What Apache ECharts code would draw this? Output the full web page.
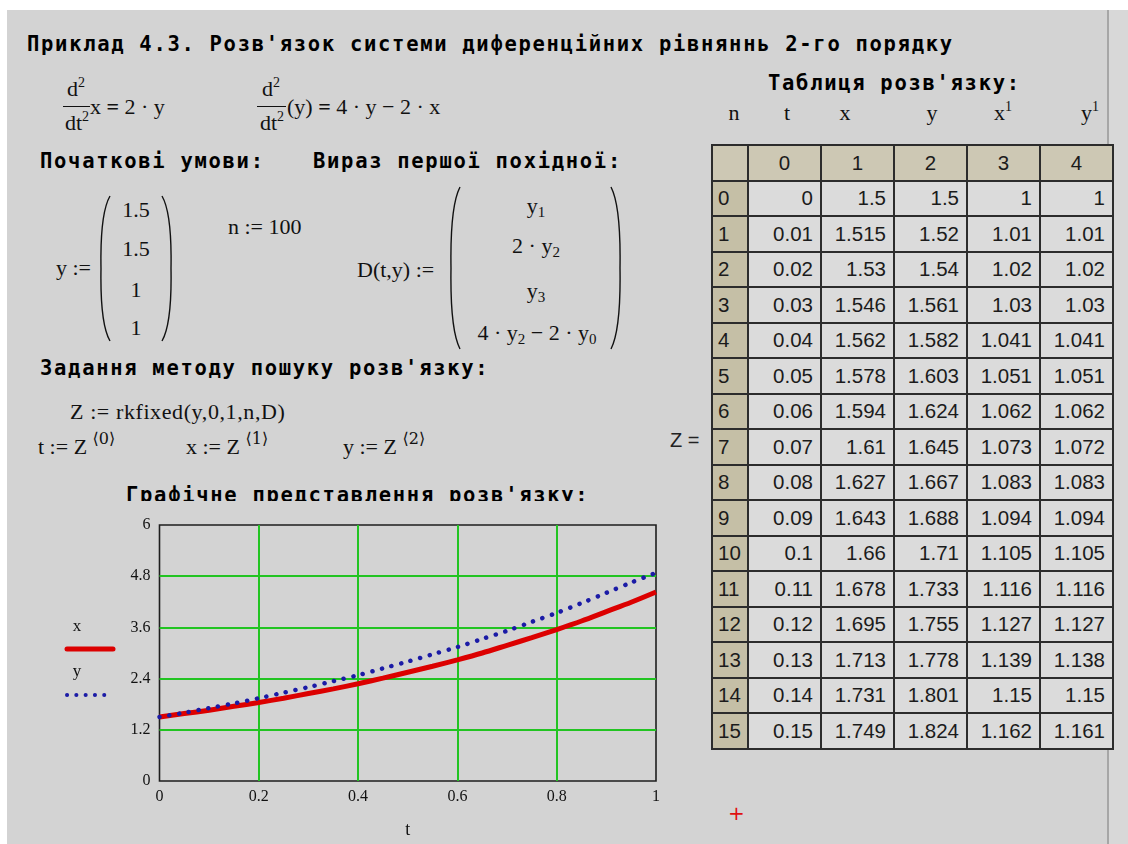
<!DOCTYPE html>
<html>
<head>
<meta charset="utf-8">
<script src="https://cdn.jsdelivr.net/npm/echarts@6/dist/echarts.min.js"></script>
<style>
  html, body { margin: 0; padding: 0; }
  body { width: 1128px; height: 844px; overflow: hidden; background: #fff; position: relative; }
  #sheet { position: absolute; left: 7px; top: 10px; width: 1100px; height: 834px; background: #d3d3d3; }
  #margin { position: absolute; left: 1109px; top: 10px; width: 19px; height: 834px; background: #d8d8d8; }
  #divider { position: absolute; left: 1107px; top: 10px; width: 2px; height: 834px; background: #a6a6a6; }
  .h { position: absolute; font-family: 'DejaVu Sans Mono', monospace; font-weight: bold; font-size: 20.5px;
       letter-spacing: 1.7px; line-height: 20.5px; white-space: pre; color: #000; }
  .m { position: absolute; font-family: 'Liberation Serif', 'DejaVu Serif', serif; font-size: 22px;
       line-height: 22px; white-space: pre; color: #111; }
  .m sub { font-size: 15px; vertical-align: -4px; line-height: 0; }
  .m sup { font-size: 14px; vertical-align: 9px; line-height: 0; }
  .ang { font-family: 'DejaVu Serif', 'DejaVu Sans', serif; font-size: 16px; position: relative; top: -10px; }
  .bareq { font-weight: bold; }
  .fbar { position: absolute; height: 1px; background: #111; }
  .c { transform: translateX(-50%); text-align: center; }
  svg.paren { position: absolute; overflow: visible; }
  #clipTitle { position: absolute; left: 126px; top: 485px; width: 520px; height: 16px; overflow: hidden; }
  #clipTitle .h { left: 0; top: 0; }
  #tableZ { position: absolute; left: 711px; top: 144px; border-collapse: collapse; table-layout: fixed; width: 401px; }
  #tableZ td { border: 2px solid #2c2c2c; height: 33.5px; padding: 0 7px 0 4px; font-family: 'Liberation Sans', Arial, sans-serif;
               font-size: 20.5px; color: #1b1b1b; background: #dbdbdb; text-align: right; overflow: hidden; white-space: nowrap; }
  #tableZ td.hd { background: #cdc8b4; text-align: center; padding: 0; }
  #tableZ td.ix { background: #c5bfa6; text-align: left; padding-left: 5px; padding-right: 0; }
  #zeq { position: absolute; left: 670px; top: 429px; font-family: 'Liberation Sans', Arial, sans-serif; font-size: 20px; color: #222; }
  #cursor { position: absolute; left: 728px; top: 803px; font-family: 'DejaVu Sans', sans-serif; font-size: 20px; color: #e01010; line-height: 20px; }
  #plot { position: absolute; left: 0; top: 500px; width: 700px; height: 344px; }
</style>
</head>
<body>
<div id="sheet"></div>
<div id="divider"></div>
<div id="margin"></div>

<!-- headings -->
<div class="h" style="left:27px;top:34px">Приклад 4.3. Розв'язок системи диференційних рівняннь 2-го порядку</div>
<div class="h" style="left:40px;top:151px">Початкові умови:</div>
<div class="h" style="left:313px;top:151px">Вираз першої похідної:</div>
<div class="h" style="left:40px;top:358px">Задання методу пошуку розв'язку:</div>
<div id="clipTitle"><div class="h">Графічне представлення розв'язку:</div></div>
<div class="h" style="left:768px;top:73px">Таблиця розв'язку:</div>

<!-- differential equations -->
<div class="m c" style="left:76px;top:78px">d<sup>2</sup></div>
<div class="fbar" style="left:63px;top:106px;width:27px"></div>
<div class="m c" style="left:77px;top:112px">dt<sup>2</sup></div>
<div class="m" style="left:90px;top:96px">x <span class="bareq">=</span> 2 · y</div>

<div class="m c" style="left:271px;top:78px">d<sup>2</sup></div>
<div class="fbar" style="left:257px;top:106px;width:29px"></div>
<div class="m c" style="left:272px;top:112px">dt<sup>2</sup></div>
<div class="m" style="left:287px;top:96px">(y) <span class="bareq">=</span> 4 · y − 2 · x</div>

<!-- initial conditions -->
<div class="m" style="left:56px;top:257px">y :=</div>
<svg class="paren" id="p1" style="left:100px;top:196px" width="12" height="145"></svg>
<svg class="paren" id="p2" style="left:160px;top:196px" width="12" height="145"></svg>
<div class="m c" style="left:136px;top:199px">1.5</div>
<div class="m c" style="left:136px;top:238px">1.5</div>
<div class="m c" style="left:136px;top:279px">1</div>
<div class="m c" style="left:136px;top:317px">1</div>
<div class="m" style="left:228px;top:216px">n := 100</div>

<!-- derivative vector -->
<div class="m" style="left:357px;top:259px">D(t,y) :=</div>
<svg class="paren" id="p3" style="left:450px;top:187px" width="12" height="162"></svg>
<svg class="paren" id="p4" style="left:609px;top:187px" width="12" height="162"></svg>
<div class="m c" style="left:536px;top:195px">y<sub>1</sub></div>
<div class="m c" style="left:536px;top:235px">2 · y<sub>2</sub></div>
<div class="m c" style="left:536px;top:280px">y<sub>3</sub></div>
<div class="m c" style="left:537px;top:322px">4 · y<sub>2</sub> − 2 · y<sub>0</sub></div>

<!-- solver call -->
<div class="m" style="left:70px;top:401px;letter-spacing:0.6px">Z := rkfixed(y,0,1,n,D)</div>
<div class="m" style="left:38px;top:436px">t := Z <span class="ang">⟨0⟩</span></div>
<div class="m" style="left:186px;top:436px">x := Z <span class="ang">⟨1⟩</span></div>
<div class="m" style="left:343px;top:436px">y := Z <span class="ang">⟨2⟩</span></div>

<!-- table captions -->
<div class="m c" style="left:734px;top:102px">n</div>
<div class="m c" style="left:787px;top:102px">t</div>
<div class="m c" style="left:845px;top:102px">x</div>
<div class="m c" style="left:932px;top:102px">y</div>
<div class="m c" style="left:1003px;top:102px">x<sup>1</sup></div>
<div class="m c" style="left:1090px;top:102px">y<sup>1</sup></div>
<div id="zeq">Z =</div>
<table id="tableZ"></table>

<div id="plot"></div>
<div id="cursor">+</div>

<script>
// ---- solution table Z (first 16 rows) ----
const columnIds = [0, 1, 2, 3, 4];
const rowIds = [0, 1, 2, 3, 4, 5, 6, 7, 8, 9, 10, 11, 12, 13, 14, 15];
const colT  = [0, 0.01, 0.02, 0.03, 0.04, 0.05, 0.06, 0.07, 0.08, 0.09, 0.1, 0.11, 0.12, 0.13, 0.14, 0.15];
const colX  = [1.5, 1.515, 1.53, 1.546, 1.562, 1.578, 1.594, 1.61, 1.627, 1.643, 1.66, 1.678, 1.695, 1.713, 1.731, 1.749];
const colY  = [1.5, 1.52, 1.54, 1.561, 1.582, 1.603, 1.624, 1.645, 1.667, 1.688, 1.71, 1.733, 1.755, 1.778, 1.801, 1.824];
const colX1 = [1, 1.01, 1.02, 1.03, 1.041, 1.051, 1.062, 1.073, 1.083, 1.094, 1.105, 1.116, 1.127, 1.139, 1.15, 1.162];
const colY1 = [1, 1.01, 1.02, 1.03, 1.041, 1.051, 1.062, 1.072, 1.083, 1.094, 1.105, 1.116, 1.127, 1.138, 1.15, 1.161];

// ---- plotted solution ----
const tValues = [0, 0.05, 0.1, 0.15, 0.2, 0.25, 0.3, 0.35, 0.4, 0.45, 0.5, 0.55, 0.6, 0.65, 0.7, 0.75, 0.8, 0.85, 0.9, 0.95, 1];
const xValues = [1.50, 1.58, 1.66, 1.75, 1.84, 1.94, 2.05, 2.16, 2.28, 2.41, 2.55, 2.69, 2.84, 3.00, 3.18, 3.36, 3.55, 3.75, 3.97, 4.19, 4.43];
const yValues = [1.50, 1.60, 1.71, 1.82, 1.94, 2.07, 2.20, 2.34, 2.48, 2.64, 2.80, 2.97, 3.14, 3.33, 3.52, 3.73, 3.94, 4.17, 4.41, 4.65, 4.88];
const xTicks = [0, 0.2, 0.4, 0.6, 0.8, 1];
const yTicks = [0, 1.2, 2.4, 3.6, 4.8, 6];

// big round brackets for the matrices
function drawParen(id, side) {
  const svg = document.getElementById(id);
  const h = +svg.getAttribute('height');
  const d = side === 'left'
    ? `M 10 0 Q 0 ${h * 0.12} 1 ${h / 2} Q 0 ${h * 0.88} 10 ${h}`
    : `M 2 0 Q 12 ${h * 0.12} 11 ${h / 2} Q 12 ${h * 0.88} 2 ${h}`;
  svg.innerHTML = `<path d="${d}" fill="none" stroke="#111" stroke-width="1.4"/>`;
}
drawParen('p1', 'left'); drawParen('p2', 'right');
drawParen('p3', 'left'); drawParen('p4', 'right');

// table body
(function buildTable() {
  const table = document.getElementById('tableZ');
  const cg = document.createElement('colgroup');
  cg.innerHTML = '<col style="width:36px">' + columnIds.map(() => '<col style="width:73px">').join('');
  table.appendChild(cg);
  let html = '<tr><td class="hd"></td>' + columnIds.map(c => `<td class="hd">${c}</td>`).join('') + '</tr>';
  const cols = [colT, colX, colY, colX1, colY1];
  rowIds.forEach((r, i) => {
    html += `<tr><td class="ix">${r}</td>` + cols.map(col => `<td>${col[i]}</td>`).join('') + '</tr>';
  });
  table.insertAdjacentHTML('beforeend', html);
})();

// chart of x(t) and y(t)
const chart = echarts.init(document.getElementById('plot'), null, { renderer: 'canvas' });
const serif = "'Liberation Serif', 'DejaVu Serif', serif";
const green = '#22c422';
chart.setOption({
  animation: false,
  backgroundColor: 'transparent',
  grid: { left: 159.5, right: 44, top: 25, bottom: 60.6, show: true, borderColor: '#1e1e1e', borderWidth: 1.6, backgroundColor: 'transparent' },
  xAxis: {
    type: 'value', min: xTicks[0], max: xTicks[xTicks.length - 1], interval: 0.2,
    axisLine: { show: false }, axisTick: { show: false },
    splitLine: { show: true, showMinLine: false, showMaxLine: false, lineStyle: { color: green, width: 2 } },
    axisLabel: { fontFamily: serif, fontSize: 16, color: '#111', margin: 8,
                 formatter: v => String(Math.round(v * 10) / 10) },
    name: 't', nameLocation: 'middle', nameGap: 40,
    nameTextStyle: { fontFamily: serif, fontSize: 18, color: '#111' }
  },
  yAxis: {
    type: 'value', min: yTicks[0], max: yTicks[yTicks.length - 1], interval: 1.2,
    axisLine: { show: false }, axisTick: { show: false },
    splitLine: { show: true, showMinLine: false, showMaxLine: false, lineStyle: { color: green, width: 2 } },
    axisLabel: { fontFamily: serif, fontSize: 16, color: '#111', margin: 9,
                 formatter: v => String(Math.round(v * 10) / 10) }
  },
  series: [
    {
      name: 'x', type: 'line', smooth: 0.3, symbol: 'none', z: 3,
      data: tValues.map((t, i) => [t, xValues[i]]),
      lineStyle: { color: '#dc0000', width: 5 }
    },
    {
      name: 'y', type: 'line', smooth: 0.3, symbol: 'none', z: 4,
      data: tValues.map((t, i) => [t, yValues[i]]),
      lineStyle: { color: '#1b1ba6', width: 4.5, type: [0.1, 9.8], cap: 'round' }
    }
  ],
  graphic: [
    { type: 'text', x: 77, y: 127, style: { text: 'x', font: '17px ' + serif, fill: '#111', align: 'center', verticalAlign: 'middle' } },
    { type: 'line', shape: { x1: 67, y1: 149, x2: 113, y2: 149 }, style: { stroke: '#dc0000', lineWidth: 5, lineCap: 'round' } },
    { type: 'text', x: 77, y: 172, style: { text: 'y', font: '17px ' + serif, fill: '#111', align: 'center', verticalAlign: 'middle' } },
    { type: 'line', shape: { x1: 67, y1: 195, x2: 113, y2: 195 }, style: { stroke: '#1b1ba6', lineWidth: 4, lineDash: [0.1, 9.2], lineCap: 'round' } }
  ]
});
</script>
</body>
</html>
